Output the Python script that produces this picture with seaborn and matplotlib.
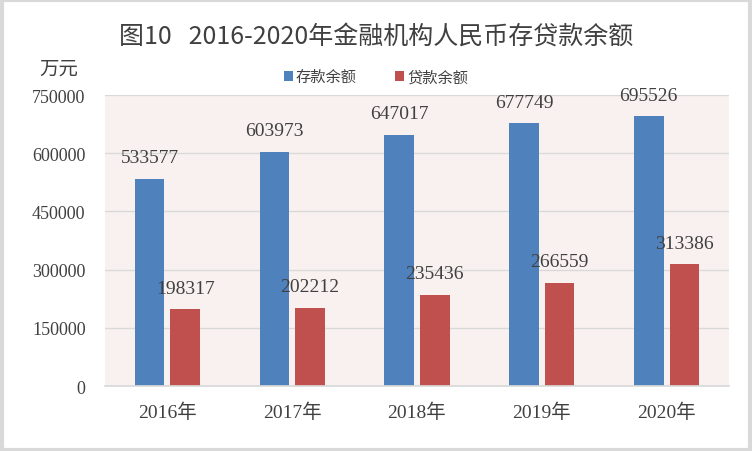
import pandas as pd
import seaborn as sns
import matplotlib.pyplot as plt
from matplotlib.patches import Rectangle

# chart data (万元)
years = ["2016年", "2017年", "2018年", "2019年", "2020年"]
deposits = [533577, 603973, 647017, 677749, 695526]
loans = [198317, 202212, 235436, 266559, 313386]
series_names = ["存款余额", "贷款余额"]
y_ticks = [0, 150000, 300000, 450000, 600000, 750000]

df = pd.DataFrame({
    "year": years * 2,
    "value": deposits + loans,
    "kind": [series_names[0]] * len(years) + [series_names[1]] * len(years),
})

sns.set_theme(style="white")
plt.rcParams["font.family"] = ["Noto Sans CJK SC", "DejaVu Sans"]
num_font = ["Liberation Serif", "Noto Sans CJK SC"]
text_color = "#404040"

fig = plt.figure(figsize=(7.52, 4.52), dpi=100)
ax = fig.add_axes([0.1396, 0.1438, 0.8298, 0.6438])
ax.set_facecolor("#F9F1F0")

sns.barplot(
    data=df, x="year", y="value", hue="kind",
    palette=["#4F81BD", "#C0504D"], width=0.57, gap=0.17,
    saturation=1, linewidth=0, ax=ax, legend=True,
)

for cont in ax.containers:
    ax.bar_label(cont, fmt="%d", padding=9, fontsize=14,
                 family=num_font, color=text_color)

ax.set_ylim(0, 750000)
ax.set_yticks(y_ticks)
ax.set_yticklabels([str(v) for v in y_ticks], family=num_font,
                   fontsize=13, color=text_color)
ax.set_xticks(range(len(years)))
ax.set_xticklabels(years, family=num_font, fontsize=14, color=text_color)
ax.tick_params(axis="y", length=0, pad=14)
ax.tick_params(axis="x", length=0, pad=12)
ax.yaxis.grid(True, color="#D9D9D9", linewidth=1)
ax.set_axisbelow(True)
for s in ["top", "right", "left"]:
    ax.spines[s].set_visible(False)
ax.spines["bottom"].set_color("#D9D9D9")
ax.set_xlabel("")
ax.set_ylabel("")

leg = ax.legend(loc="center", bbox_to_anchor=(0.5, 0.828),
                bbox_transform=fig.transFigure, ncol=2, frameon=False,
                fontsize=11, handlelength=0.6, handleheight=0.6,
                handletextpad=0.2, columnspacing=2.5)
for t in leg.get_texts():
    t.set_color(text_color)

fig.text(0.5, 0.918, "图10   2016-2020年金融机构人民币存贷款余额",
         ha="center", va="center", fontsize=18, color=text_color)
fig.text(0.078, 0.845, "万元", ha="center", va="center",
         fontsize=14, color=text_color, family=num_font)

fig.patches.append(Rectangle((0.002, 0.003), 0.995, 0.994,
                             transform=fig.transFigure, fill=False,
                             edgecolor="#D9D9D9", linewidth=3))

plt.savefig("out.png", dpi=100)
